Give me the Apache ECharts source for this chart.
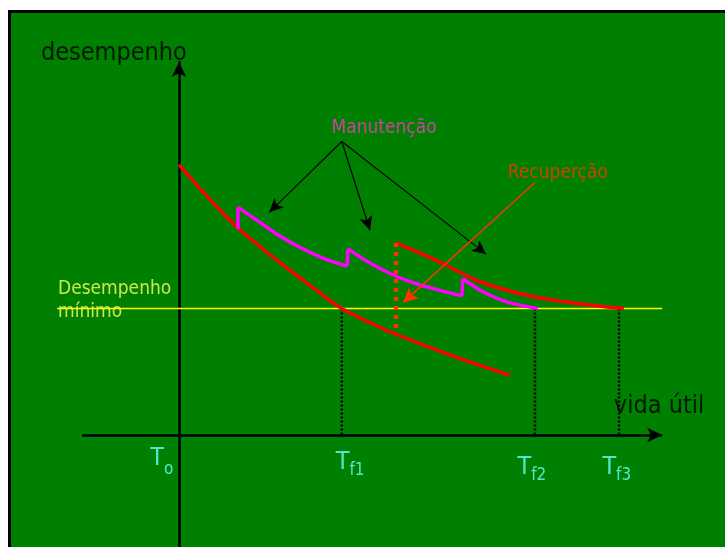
<!DOCTYPE html>
<html>
<head>
<meta charset="utf-8">
<script src="https://cdn.jsdelivr.net/npm/echarts@6/dist/echarts.min.js"></script>
<style>
  html, body { margin: 0; padding: 0; background: #fff; }
  #chart { width: 725px; height: 547px; }
</style>
</head>
<body>
<div id="chart"></div>
<script>
// x = vida útil, y = desempenho (arbitrary units)
const failTimes = [3.70, 8.09, 10.0];          // Tf1, Tf2, Tf3
const minPerf = 3.39;                          // desempenho mínimo
const minLineX = [-2.77, 10.98];
const timeAxisX = [-2.2, 10.98];

const curveNoMaint = [[0, 7.25], [0.66, 6.37], [1.34, 5.55], [2.36, 4.56], [3.14, 3.87],
  [3.70, 3.39], [4.64, 2.85], [5.66, 2.37], [6.39, 2.05], [7.52, 1.60]];
const curveRecovered = [[4.93, 5.15], [5.93, 4.64], [6.84, 4.11], [7.98, 3.73], [9.11, 3.52], [10.11, 3.39]];

const maintSegments = [
  [[1.34, 6.11], [1.84, 5.70], [2.30, 5.33], [2.80, 5.00], [3.30, 4.73], [3.82, 4.53]],
  [[3.84, 4.99], [4.34, 4.61], [4.91, 4.27], [5.41, 4.05], [5.93, 3.88], [6.43, 3.73]],
  [[6.45, 4.19], [6.91, 3.84], [7.45, 3.57], [8.16, 3.39]]
];
const maintJumps = [
  [[1.34, 5.52], [1.34, 6.11]],
  [[3.82, 4.53], [3.84, 4.99]],
  [[6.43, 3.73], [6.45, 4.19]]
];
const recoveryJump = [[4.93, 5.15], [4.93, 2.77]];

const maintArrowFrom = [3.70, 7.87];
const maintArrowTo = [[2.05, 5.97], [4.34, 5.49], [6.98, 4.85]];
const recupArrow = [[8.09, 6.77], [5.09, 3.55]];

const timeSubs = ['o', 'f1', 'f2', 'f3'];
const timeLabelPos = [[-0.39, -0.77], [3.89, -0.80], [8.02, -0.93], [9.95, -0.93]];

const FONT = 'Tahoma, "DejaVu Sans Condensed", "DejaVu Sans", sans-serif';

// join segments with null so the line breaks between them
function joinSegments(segs) {
  const out = [];
  segs.forEach((s, i) => {
    if (i > 0) out.push(null);
    s.forEach(p => out.push(p));
  });
  return out;
}

const dropLines = joinSegments(failTimes.map(t => [[t, minPerf], [t, 0]]));

const textItems = [
  { value: [-1.48, 10.22], label: { formatter: 'desempenho', color: '#000', fontSize: 25 } },
  { value: [10.91, 0.76], label: { formatter: 'vida útil', color: '#000', fontSize: 25 } },
  { value: [-2.75, 3.60], label: { formatter: 'Desempenho\nmínimo', color: '#ffff66', fontSize: 19, lineHeight: 23, position: 'right', distance: 0, align: 'left' } },
  { value: [4.66, 8.22], label: { formatter: 'Manutenção', color: '#ff33cc', fontSize: 19 } },
  { value: [8.61, 7.03], label: { formatter: 'Recuperção', color: '#ff3300', fontSize: 19 } }
].concat(timeSubs.map((s, i) => ({
  value: timeLabelPos[i],
  label: { formatter: s === 'o' ? '{to|T}{s|o}' : '{tf|T}{s|' + s + '}' }
})));

const chart = echarts.init(document.getElementById('chart'));
chart.setOption({
  animation: false,
  backgroundColor: '#fff',
  graphic: [{
    type: 'rect', z: -10, silent: true,
    shape: { x: 9.5, y: 11.5, width: 800, height: 600 },
    style: { fill: '#008000', stroke: '#000', lineWidth: 3 }
  }],
  grid: { left: 55.8, top: 62, width: 607.2, height: 487.5 },
  xAxis: {
    type: 'value', min: -2.8, max: 11,
    splitLine: { show: false }, axisTick: { show: false }, axisLabel: { show: false },
    axisLine: { show: false }
  },
  yAxis: {
    type: 'value', min: -3, max: 10,
    splitLine: { show: false }, axisTick: { show: false }, axisLabel: { show: false },
    axisLine: { onZero: true, symbol: ['none', 'arrow'], symbolSize: [11, 15], lineStyle: { color: '#000', width: 2.5 } }
  },
  series: [
    {
      type: 'line', data: [], silent: true,
      markLine: {
        silent: true, symbol: ['none', 'arrow'], symbolSize: [11, 15],
        label: { show: false },
        lineStyle: { color: '#000', width: 2.5, type: 'solid' },
        data: [[{ coord: [timeAxisX[0], 0] }, { coord: [timeAxisX[1], 0] }]]
      }
    },
    {
      type: 'line', data: minLineX.map(x => [x, minPerf]), showSymbol: false, silent: true,
      lineStyle: { color: '#ffff00', width: 1.5 }
    },
    {
      type: 'line', data: dropLines, showSymbol: false, silent: true,
      lineStyle: { color: '#000', width: 2.5, type: [2, 2] }
    },
    {
      type: 'line', data: curveNoMaint, smooth: 0.3, showSymbol: false, silent: true,
      lineStyle: { color: '#ff0000', width: 3.5 }
    },
    {
      type: 'line', data: curveRecovered, smooth: 0.3, showSymbol: false, silent: true,
      lineStyle: { color: '#ff0000', width: 3.5 }
    },
    {
      type: 'line', data: recoveryJump, showSymbol: false, silent: true,
      lineStyle: { color: '#ff3300', width: 4.5, type: [4, 5] }
    },
    {
      type: 'line', data: joinSegments(maintSegments), smooth: 0.3, showSymbol: false, silent: true,
      lineStyle: { color: '#ff00ff', width: 3.5 }
    },
    {
      type: 'line', data: joinSegments(maintJumps), showSymbol: false, silent: true,
      lineStyle: { color: '#ff00ff', width: 3.5 }
    },
    {
      type: 'line', data: [], silent: true,
      markLine: {
        silent: true, symbol: ['none', 'arrow'], symbolSize: [10, 14],
        label: { show: false },
        lineStyle: { color: '#000', width: 1.2, type: 'solid' },
        data: maintArrowTo.map(p => [{ coord: maintArrowFrom }, { coord: p }])
      }
    },
    {
      type: 'line', data: [], silent: true,
      markLine: {
        silent: true, symbol: ['none', 'arrow'], symbolSize: [11, 15],
        label: { show: false },
        lineStyle: { color: '#ff3300', width: 1.5, type: 'solid' },
        data: [[{ coord: recupArrow[0] }, { coord: recupArrow[1] }]]
      }
    },
    {
      type: 'scatter', data: textItems, symbolSize: 0, clip: false, silent: true,
      label: {
        show: true, position: 'inside', fontFamily: FONT,
        rich: {
          to: { fontSize: 25, color: '#66ffff', fontFamily: FONT, lineHeight: 28, padding: [0, 0, 10, 0] },
          tf: { fontSize: 25, color: '#66ffff', fontFamily: FONT, lineHeight: 28, padding: [0, 0, 4, 0] },
          s: { fontSize: 17, color: '#66ffff', fontFamily: FONT, lineHeight: 17, verticalAlign: 'bottom' }
        }
      }
    }
  ]
});
</script>
</body>
</html>
